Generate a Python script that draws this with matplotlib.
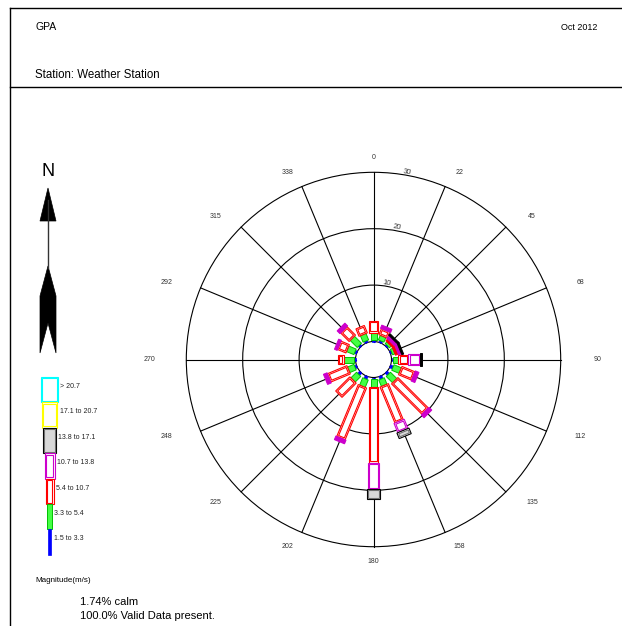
import numpy as np
import matplotlib.pyplot as plt
from matplotlib.patches import Polygon, Circle

plt.rcParams['font.family'] = ['Liberation Sans', 'DejaVu Sans']

# Direcoes (graus, a partir do norte) e rotulos
direcoes = np.arange(16) * 22.5
rotulos_dir = ["0", "22", "45", "68", "90", "112", "135", "158",
               "180", "202", "225", "248", "270", "292", "315", "338"]

# Classes de velocidade (m/s)
classes = ["1.5 to 3.3", "3.3 to 5.4", "5.4 to 10.7", "10.7 to 13.8",
           "13.8 to 17.1", "17.1 to 20.7", "> 20.7"]
cores = ["#0000ff", "#00e000", "#ff0000", "#cc00cc", "#000000", "#ffff00", "#00ffff"]

# Frequencia (%) de cada classe por direcao (N, NNE, NE, ... NNW)
freq_15_33 = [0.35, 0.35, 0.27, 0.27, 0.35, 0.53, 0.53, 0.53,
              0.35, 0.53, 0.53, 0.35, 0.35, 0.35, 0.35, 0.35]
freq_33_54 = [1.24, 0.89, 0.44, 0.44, 0.89, 1.42, 1.60, 1.24,
              1.33, 1.42, 1.42, 1.24, 1.77, 1.42, 1.77, 1.24]
freq_54_107 = [2.13, 1.15, 0.44, 0.53, 1.77, 2.48, 7.62, 6.91,
               13.40, 9.93, 3.55, 3.72, 0.98, 1.60, 2.13, 1.42]
freq_107_138 = [0.00, 0.62, 0.62, 0.53, 2.13, 0.71, 0.71, 1.77,
                4.70, 0.71, 0.00, 0.71, 0.00, 0.53, 0.71, 0.00]
freq_138_171 = [0.00, 0.00, 0.35, 0.35, 0.27, 0.00, 0.00, 1.06,
                1.77, 0.00, 0.00, 0.00, 0.00, 0.00, 0.00, 0.00]
freq_171_207 = [0.0] * 16
freq_207 = [0.0] * 16

calma = 1.74
validos = 100.0
aneis = [10, 20, 30]

freqs = [freq_15_33, freq_33_54, freq_54_107, freq_107_138,
         freq_138_171, freq_171_207, freq_207]

# escala: pixels por % e raio do circulo de calmaria
PX = 5.64
R_CALMA = 18 / PX
larg_px = [3, 6, 9, 11, 13, 15, 17]        # largura dos segmentos na rosa
larg_leg = [3, 5, 8, 10, 13, 15, 17]       # largura das caixas da legenda


def segmento(ax, theta, r0, r1, w, **kw):
    t = np.radians(theta)
    u = np.array([np.sin(t), np.cos(t)])
    p = np.array([np.cos(t), -np.sin(t)])
    pts = [r0 * u - w / 2 * p, r1 * u - w / 2 * p, r1 * u + w / 2 * p, r0 * u + w / 2 * p]
    ax.add_patch(Polygon(pts, closed=True, **kw))


def estilo(k):
    # (cor de fundo, cor da linha interna)
    if k == 4:
        return "#d8d8d8", "#707070"
    return "white", cores[k]


def desenha(ax, theta, r0, r1, w, k, d):
    cor = cores[k]
    if k == 0:
        segmento(ax, theta, r0, r1, w, fc=cor, ec=cor, lw=0.5, zorder=4)
    elif k == 1:
        segmento(ax, theta, r0, r1, w, fc="#44ff44", ec="#00c000", lw=0.7, zorder=4)
    elif r1 - r0 < 3 * d:
        segmento(ax, theta, r0, r1, w, fc=cor, ec=cor, lw=0.7, zorder=4)
    else:
        fundo, interna = estilo(k)
        segmento(ax, theta, r0, r1, w, fc="white", ec=cor, lw=0.8, zorder=4)
        segmento(ax, theta, r0 + d, r1 - d, w - 2 * d, fc=fundo, ec=interna, lw=0.8, zorder=4)


fig = plt.figure(figsize=(6.22, 6.26), dpi=100)

# pagina (coordenadas em pixels)
pg = fig.add_axes([0, 0, 1, 1])
pg.set_xlim(0, 622)
pg.set_ylim(626, 0)
pg.axis("off")
pg.plot([10, 622], [8, 8], color="black", lw=1)
pg.plot([10, 622], [87, 87], color="black", lw=1)
pg.plot([10, 10], [8, 626], color="black", lw=1)
pg.text(35, 27, "GPA", fontsize=7.5, va="center")
pg.text(597, 27, "Oct 2012", fontsize=6.5, va="center", ha="right")
pg.text(35, 75, "Station: Weather Station", fontsize=8.3, va="center")

# seta do norte
pg.text(48, 172, "N", fontsize=13, ha="center", va="center")
pg.add_patch(Polygon([(48, 188), (56, 221), (40, 221)], closed=True, fc="black", ec="black", lw=0.5))
pg.plot([48, 48], [200, 268], color="#333333", lw=1)
pg.add_patch(Polygon([(48, 266), (56, 296), (56, 353), (48, 323), (40, 353), (40, 296)],
                     closed=True, fc="black", ec="black", lw=0.5))

# legenda
topo = 377
h = 25.4
for i, k in enumerate(range(6, -1, -1)):
    y0 = topo + i * h
    w = larg_leg[k]
    x0 = 49.5 - w / 2
    cor = cores[k]
    if k == 0:
        pg.add_patch(plt.Rectangle((x0, y0), w, h, fc=cor, ec=cor, lw=0.5))
    elif k == 1:
        pg.add_patch(plt.Rectangle((x0, y0), w, h, fc="#44ff44", ec="#00c000", lw=0.7))
    else:
        fundo, interna = estilo(k)
        pg.add_patch(plt.Rectangle((x0, y0), w, h, fc="white", ec=cor, lw=0.8))
        pg.add_patch(plt.Rectangle((x0 + 1.4, y0 + 1.4), w - 2.8, h - 2.8, fc=fundo, ec=interna, lw=0.8))
    pg.text(49.5 + w / 2 + 2.5, y0 + 9.5, classes[k], fontsize=5, va="center", color="#222222")

pg.text(35, 580, "Magnitude(m/s)", fontsize=5.8, va="center")
pg.text(80, 602, f"{calma:.2f}% calm", fontsize=8, va="center")
pg.text(80, 616, f"{validos:.1f}% Valid Data present.", fontsize=8, va="center")

# rosa dos ventos
L = 40
cx, cy = 373.5, 359.5
lado = 2 * L * PX
ax = fig.add_axes([(cx - lado / 2) / 622, (626 - cy - lado / 2) / 626, lado / 622, lado / 626])
ax.set_xlim(-L, L)
ax.set_ylim(-L, L)
ax.axis("off")
ax.patch.set_alpha(0)

r_max = R_CALMA + aneis[-1]
for r in [R_CALMA] + [R_CALMA + a for a in aneis]:
    ax.add_patch(Circle((0, 0), r, fc="none", ec="black", lw=0.8, zorder=2))
for th in direcoes:
    t = np.radians(th)
    ax.plot([R_CALMA * np.sin(t), r_max * np.sin(t)],
            [R_CALMA * np.cos(t), r_max * np.cos(t)], color="black", lw=0.8, zorder=1)

for a in aneis:
    t = np.radians(10)
    r = R_CALMA + a + 0.6
    ax.text(r * np.sin(t), r * np.cos(t), str(a), fontsize=5.5, ha="center", va="center",
            rotation=-10, color="#333333")

for th, lab in zip(direcoes, rotulos_dir):
    t = np.radians(th)
    ax.text(224 / PX * np.sin(t), 202 / PX * np.cos(t), lab, fontsize=5,
            ha="center", va="center", color="#333333")

for i, th in enumerate(direcoes):
    r0 = R_CALMA
    for k in range(7):
        v = freqs[k][i]
        if v <= 0:
            continue
        r1 = r0 + v
        desenha(ax, th, r0, r1, larg_px[k] / PX, k, 1.4 / PX)
        r0 = r1

fig.savefig("out.png", dpi=100)
